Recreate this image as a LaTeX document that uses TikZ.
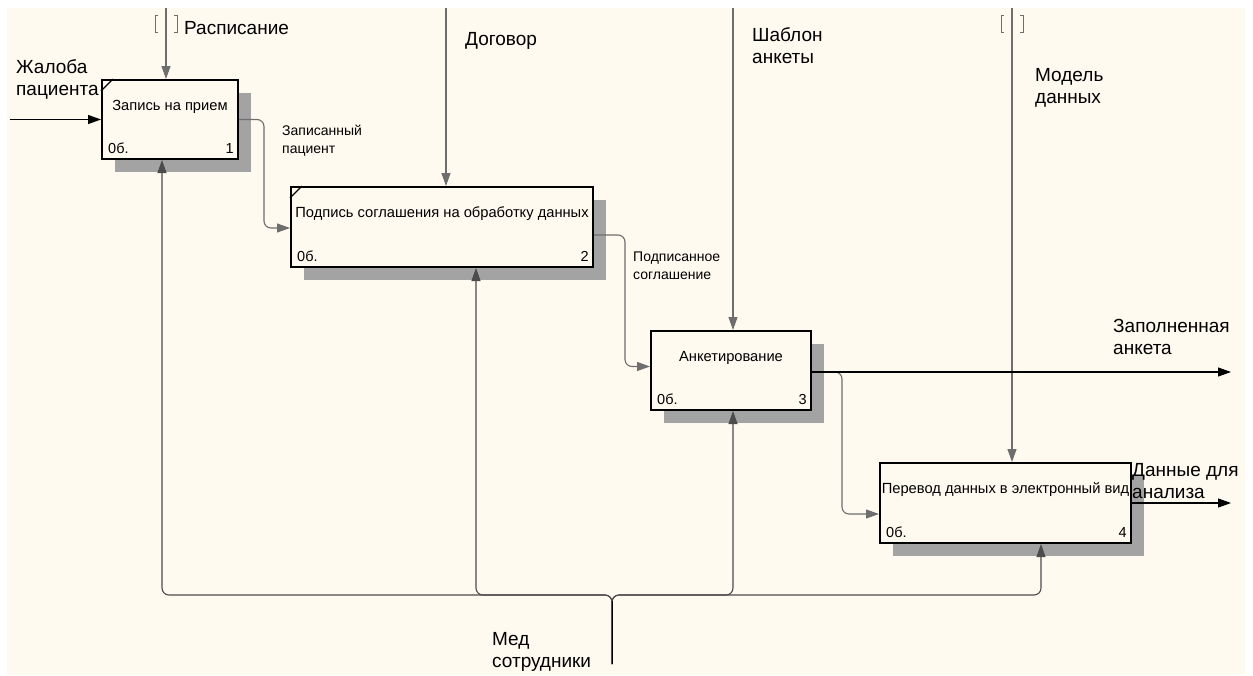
\documentclass[tikz,border=0pt]{standalone}
\usepackage{fontspec}
\setmainfont{Liberation Sans}
\usetikzlibrary{arrows.meta,calc,shadows}

\definecolor{paper}{RGB}{255,250,240}
\definecolor{wire}{RGB}{110,110,110}

\tikzset{
  x=1pt, y=-1pt,
  activity/.style={draw, line width=2pt, fill=paper, inner sep=0pt,
    drop shadow={shadow xshift=12.5pt, shadow yshift=-12.5pt, fill=black!36, opacity=1}},
  arr/.style={line width=1.1pt, -{Triangle[length=13pt,width=9pt]}},
  inner/.style={arr, draw=wire, rounded corners=7},
  outer/.style={arr, draw=black},
  biglabel/.style={anchor=base west, align=left, inner sep=0pt,
    font=\fontsize{19}{22}\selectfont},
  smalllabel/.style={anchor=base west, align=left, inner sep=0pt,
    font=\fontsize{14}{18}\selectfont},
  boxtitle/.style={inner sep=0pt, font=\fontsize{14.7}{16}\selectfont},
  boxtag/.style={inner sep=0pt, font=\fontsize{14.5}{16}\selectfont},
  tunnel/.style={draw=wire, line width=0.8pt}
}

\begin{document}
\begin{tikzpicture}
  % page and drawing area
  \useasboundingbox[fill=white] (0,0) rectangle (1253,675);
  \fill[paper] (7,8) rectangle (1245,675);

  % activity boxes
  \node[activity, minimum width=136pt, minimum height=79pt] (b1) at (170,119.5) {};
  \node[activity, minimum width=302pt, minimum height=80pt] (b2) at (442,227) {};
  \node[activity, minimum width=160pt, minimum height=79pt] (b3) at (731,370.5) {};
  \node[activity, minimum width=251pt, minimum height=80pt] (b4) at (1005.5,503) {};

  % corner marks of the first two boxes
  \draw[line width=1.2pt] ($(b1.north west)+(0,12)$) -- ($(b1.north west)+(12,0)$);
  \draw[line width=1.2pt] ($(b2.north west)+(0,12)$) -- ($(b2.north west)+(12,0)$);

  % box texts
  \node[boxtitle] (t1) at ($(b1.north)+(0,28)$) {Запись на прием};
  \node[boxtitle] (t2) at ($(b2.north)+(0,28)$) {Подпись соглашения на обработку данных};
  \node[boxtitle] (t3) at ($(b3.north)+(0,28)$) {Анкетирование};
  \node[boxtitle] (t4) at ($(b4.north)+(0,28)$) {Перевод данных в электронный вид};
  \foreach \b/\n in {b1/1, b2/2, b3/3, b4/4} {
    \node[boxtag, anchor=base west] (\b c) at ($(\b.south west)+(7,-7)$) {0б.};
    \node[boxtag, anchor=base east] (\b n) at ($(\b.south east)+(-5,-7)$) {\n};
  }

  % free ends of the boundary arrows
  \coordinate (in1) at (10,119.5);
  \coordinate (c1) at (166,8);
  \coordinate (c2) at (446,8);
  \coordinate (c3) at (733,8);
  \coordinate (c4) at (1012,8);
  \coordinate (o1) at (1231,372);
  \coordinate (o2) at (1231,503);
  \coordinate (med) at (612,664);
  \coordinate (bus) at (612,595);

  % input
  \draw[outer] (in1) -- (b1.west);

  % controls
  \draw[inner] (c1) -- (c1 |- b1.north);
  \draw[inner] (c2) -- (c2 |- b2.north);
  \draw[inner] (c3) -- (c3 |- b3.north);
  \draw[inner] (c4) -- (c4 |- b4.north);

  % tunnel brackets on two controls
  \foreach \c in {c1, c4} {
    \draw[tunnel] ($(\c)+(-8,7)$) -- ++(-3,0) -- ++(0,17) -- ++(3,0);
    \draw[tunnel] ($(\c)+(8,7)$) -- ++(3,0) -- ++(0,17) -- ++(-3,0);
  }

  % flows between activities
  \draw[inner] (b1.east) -- ++(25,0) |- ($(b2.west)+(0,1)$);
  \draw[inner] ($(b2.east)+(0,8)$) -- ++(31,0) |- ($(b3.west)+(0,-4)$);
  \draw[inner] ($(b3.east)+(0,1.5)$) -- ++(30,0) |- ($(b4.west)+(0,11)$);

  % outputs
  \draw[outer] ($(b3.east)+(0,1.5)$) -- (o1);
  \draw[outer] (b4.east) -- (o2);

  % mechanism bus
  \draw[inner, draw=black!70] (med) -- (bus) -| ($(b1.south)+(-8,0)$);
  \draw[inner, draw=black!70] (med) -- (bus) -| ($(b2.south)+(34,0)$);
  \draw[inner, draw=black!70] (med) -- (bus) -| ($(b3.south)+(2,0)$);
  \draw[inner, draw=black!70] (med) -- (bus) -| ($(b4.south)+(35.5,0)$);
  \draw[line width=0.9pt] (med) -- ($(bus)+(0,6)$);

  % arrow labels (anchored at the baseline of the last line)
  \node[biglabel] (l1) at (16,95) {Жалоба\\пациента};
  \node[biglabel] (l2) at (184,34) {Расписание};
  \node[biglabel] (l3) at (465,45) {Договор};
  \node[biglabel] (l4) at (752,63) {Шаблон\\анкеты};
  \node[biglabel] (l5) at (1035,103) {Модель\\данных};
  \node[biglabel] (l6) at (1113,354) {Заполненная\\анкета};
  \node[biglabel] (l7) at (1132,498) {Данные для\\анализа};
  \node[biglabel] (l8) at (492,667) {Мед\\сотрудники};
  \node[smalllabel] (l9) at (282,153) {Записанный\\пациент};
  \node[smalllabel] (l10) at (633,279) {Подписанное\\соглашение};
\end{tikzpicture}
\end{document}
